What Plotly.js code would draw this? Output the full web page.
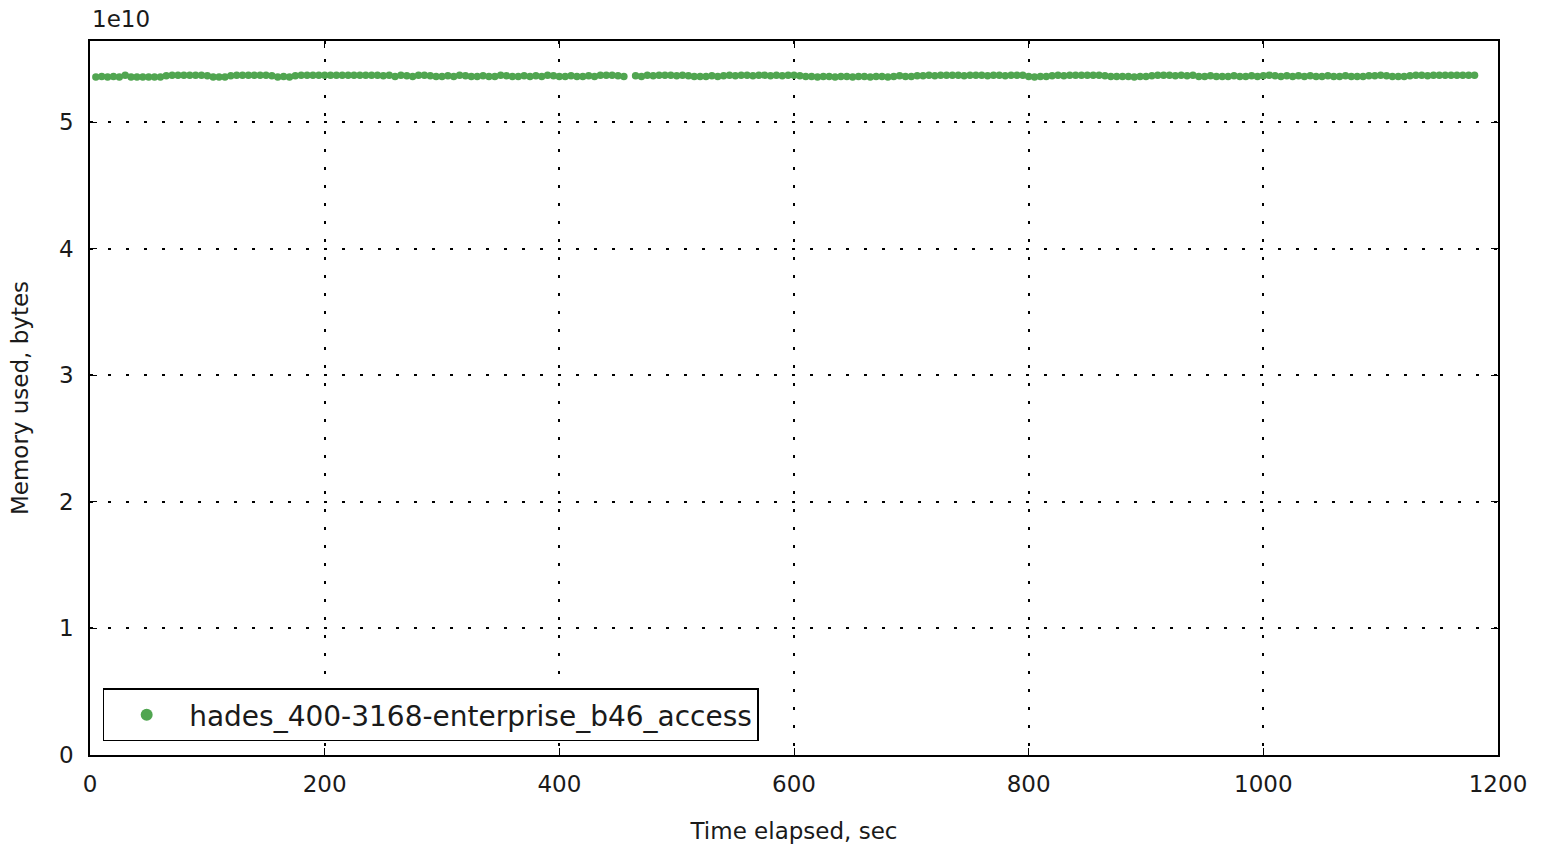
<!DOCTYPE html>
<html>
<head>
<meta charset="utf-8">
<script src="https://cdn.plot.ly/plotly-3.0.1.min.js"></script>
<style>html,body{margin:0;padding:0;background:#fff;}#chart{width:1546px;height:851px;}</style>
</head>
<body>
<div id="chart"></div>
<script>
const seriesName = "hades_400-3168-enterprise_b46_access";
const timeSec = [
5,10,15,20,25,30,35,40,45,50,
55,60,65,70,75,80,85,90,95,100,
105,110,115,120,125,130,135,140,145,150,
155,160,165,170,175,180,185,190,195,200,
205,210,215,220,225,230,235,240,245,250,
255,260,265,270,275,280,285,290,295,300,
305,310,315,320,325,330,335,340,345,350,
355,360,365,370,375,380,385,390,395,400,
405,410,415,420,425,430,435,440,445,450,
455,
465,470,475,480,485,490,495,500,505,510,
515,520,525,530,535,540,545,550,555,560,
565,570,575,580,585,590,595,600,605,610,
615,620,625,630,635,640,645,650,655,660,
665,670,675,680,685,690,695,700,705,710,
715,720,725,730,735,740,745,750,755,760,
765,770,775,780,785,790,795,800,805,810,
815,820,825,830,835,840,845,850,855,860,
865,870,875,880,885,890,895,900,905,910,
915,920,925,930,935,940,945,950,955,960,
965,970,975,980,985,990,995,1000,1005,1010,
1015,1020,1025,1030,1035,1040,1045,1050,1055,1060,
1065,1070,1075,1080,1085,1090,1095,1100,1105,1110,
1115,1120,1125,1130,1135,1140,1145,1150,1155,1160,
1165,1170,1175,1180
];
// memory used, in units of 1e10 bytes
const memUsed1e10 = [
5.355,5.36,5.355,5.36,5.355,5.37,5.355,5.355,5.355,5.355,
5.355,5.355,5.365,5.37,5.37,5.37,5.37,5.37,5.37,5.365,
5.355,5.355,5.355,5.365,5.37,5.37,5.37,5.37,5.37,5.37,
5.365,5.355,5.36,5.355,5.365,5.37,5.37,5.37,5.37,5.37,
5.37,5.37,5.37,5.37,5.37,5.37,5.37,5.37,5.37,5.365,
5.37,5.36,5.37,5.365,5.36,5.37,5.37,5.365,5.36,5.36,
5.365,5.36,5.37,5.365,5.36,5.36,5.365,5.36,5.36,5.37,
5.365,5.36,5.36,5.365,5.36,5.365,5.36,5.37,5.365,5.36,
5.36,5.365,5.36,5.36,5.365,5.36,5.37,5.37,5.37,5.365,
5.36,
5.365,5.36,5.37,5.365,5.37,5.37,5.37,5.365,5.37,5.365,
5.36,5.36,5.36,5.365,5.36,5.365,5.37,5.365,5.37,5.37,
5.365,5.37,5.37,5.365,5.37,5.365,5.37,5.37,5.365,5.36,
5.36,5.355,5.36,5.36,5.355,5.36,5.36,5.355,5.36,5.36,
5.355,5.36,5.36,5.355,5.36,5.365,5.36,5.36,5.365,5.365,
5.37,5.365,5.37,5.37,5.37,5.37,5.365,5.37,5.37,5.37,
5.365,5.37,5.37,5.365,5.37,5.37,5.37,5.36,5.355,5.36,
5.36,5.365,5.37,5.365,5.37,5.37,5.37,5.37,5.37,5.37,
5.365,5.36,5.36,5.36,5.36,5.355,5.36,5.36,5.365,5.37,
5.37,5.37,5.365,5.37,5.365,5.37,5.36,5.36,5.365,5.36,
5.36,5.36,5.365,5.36,5.36,5.365,5.36,5.365,5.37,5.365,
5.36,5.365,5.36,5.365,5.36,5.365,5.36,5.36,5.365,5.36,
5.36,5.365,5.36,5.36,5.36,5.365,5.365,5.37,5.365,5.36,
5.36,5.36,5.365,5.37,5.37,5.365,5.37,5.37,5.37,5.37,
5.37,5.37,5.37,5.37
];
const xTickVals = [0,200,400,600,800,1000,1200];
const yTickVals1e10 = [0,1,2,3,4,5];
const yTickText = ["0","1","2","3","4","5"];
const scale = 1e10;

const font = "DejaVu Sans, sans-serif";
const trace = {
  x: timeSec,
  y: memUsed1e10.map(v => v * scale),
  mode: "markers",
  type: "scatter",
  name: seriesName,
  marker: {color: "#50a550", size: 7.5}
};
const axisCommon = {
  showline: true, mirror: "ticks", linecolor: "#000", linewidth: 1.5,
  ticks: "inside", ticklen: 7, tickcolor: "#000", tickwidth: 1.2,
  showgrid: true, gridcolor: "#000", gridwidth: 1.8, griddash: "3px,15px",
  zeroline: false,
  tickfont: {family: font, size: 23, color: "#1a1a1a"}
};
const layout = {
  width: 1546, height: 851,
  paper_bgcolor: "#fff", plot_bgcolor: "#fff",
  margin: {l: 90, r: 48, t: 41, b: 96},
  showlegend: true,
  xaxis: Object.assign({}, axisCommon, {
    range: [0, 1200], tickvals: xTickVals, ticklabelstandoff: 8,
    title: {text: "Time elapsed, sec", font: {family: font, size: 23, color: "#1a1a1a"}, standoff: 27}
  }),
  yaxis: Object.assign({}, axisCommon, {
    range: [0, 5.64 * scale],
    tickvals: yTickVals1e10.map(v => v * scale), ticktext: yTickText, ticklabelstandoff: 10,
    title: {text: "Memory used, bytes", font: {family: font, size: 23, color: "#1a1a1a"}, standoff: 24}
  }),
  legend: {
    x: 0.009, y: 0.019, xanchor: "left", yanchor: "bottom",
    bgcolor: "#fff", bordercolor: "#000", borderwidth: 1.5,
    font: {family: font, size: 28, color: "#1a1a1a"},
    itemwidth: 75, itemsizing: "constant"
  },
  annotations: [{
    text: "1e10", xref: "paper", yref: "paper", x: 0, y: 1, xanchor: "left", yanchor: "bottom",
    yshift: 7, showarrow: false, font: {family: font, size: 23, color: "#1a1a1a"}
  }]
};
Plotly.newPlot("chart", [trace], layout, {displayModeBar: false});
</script>
</body>
</html>
